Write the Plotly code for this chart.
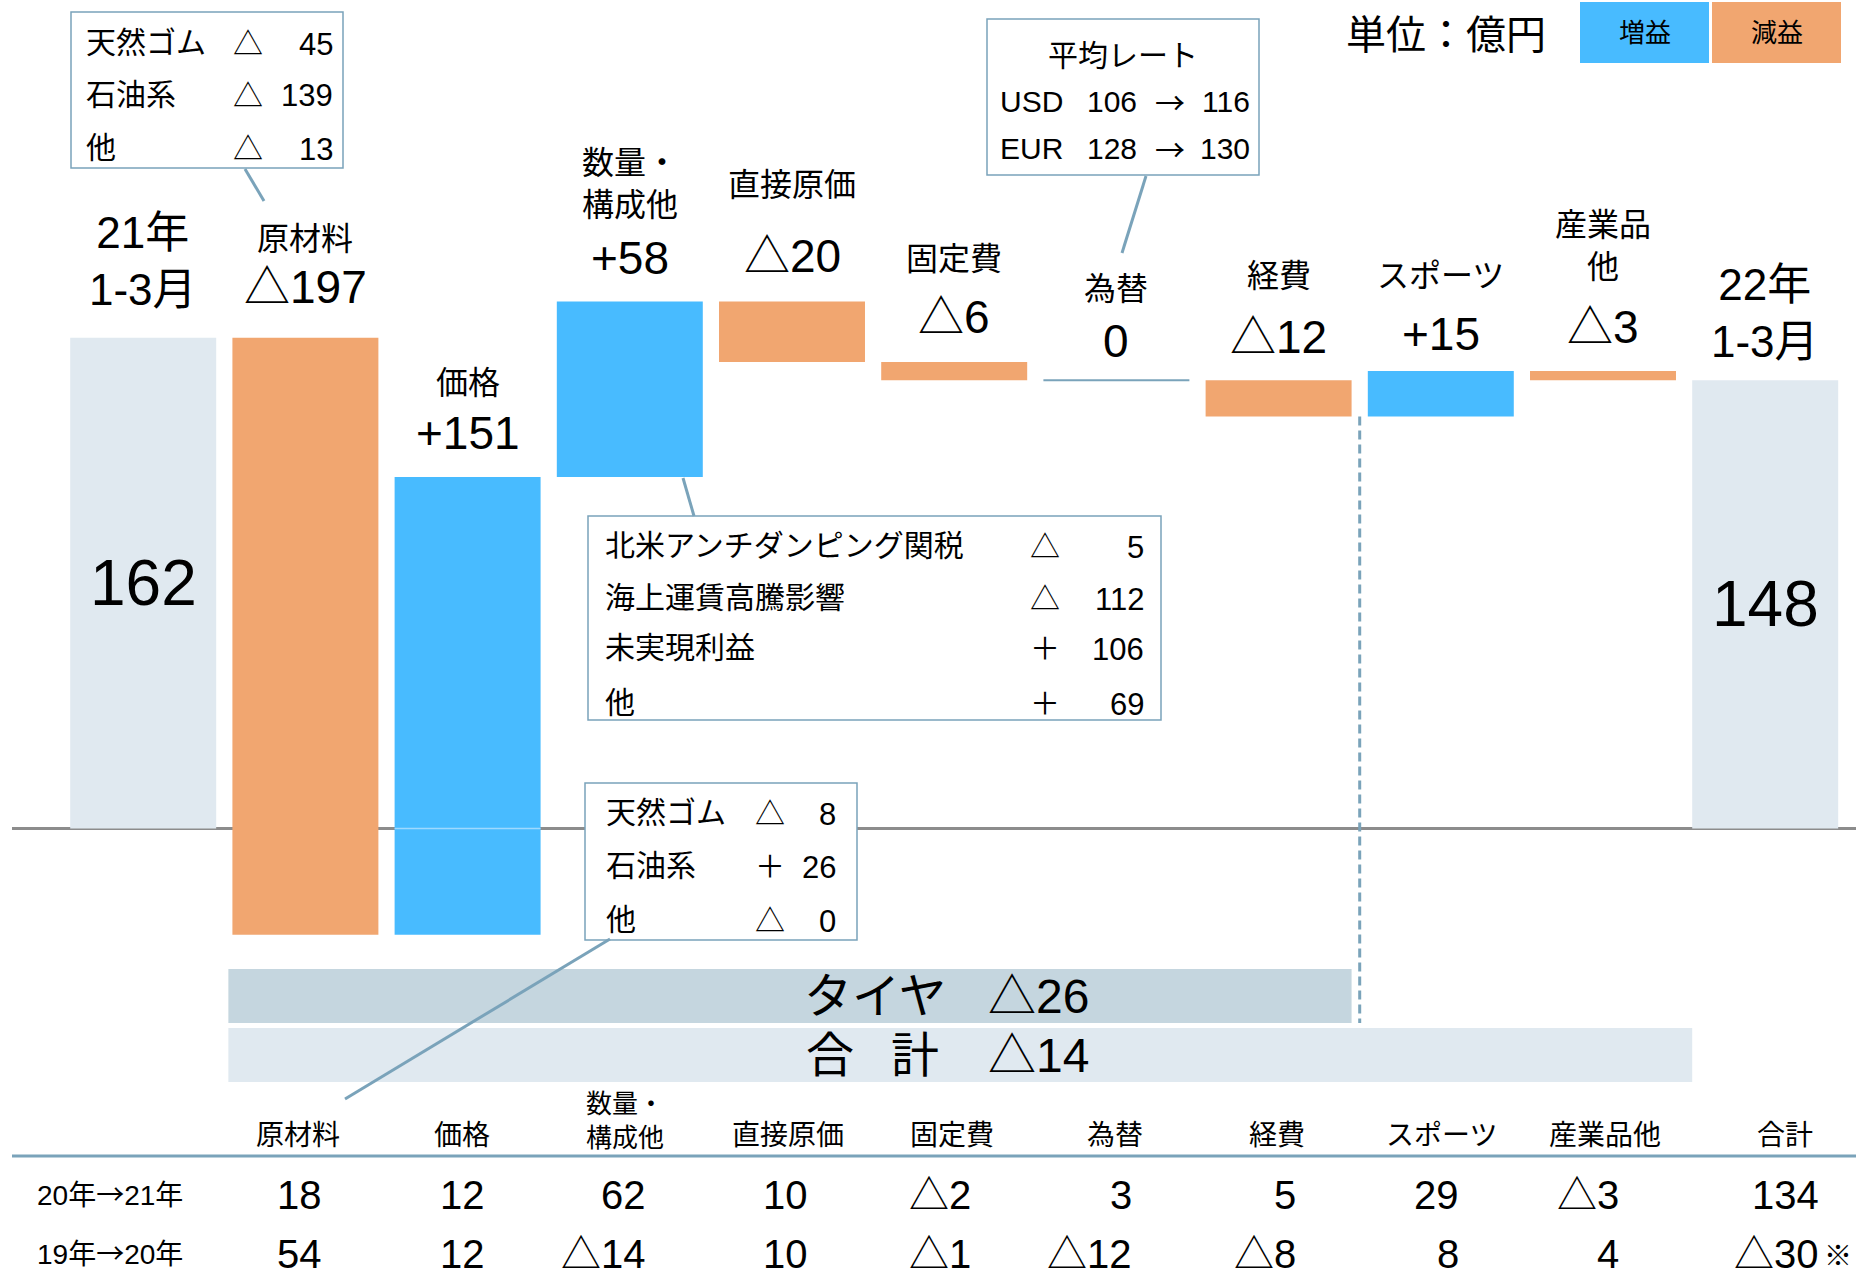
import plotly.graph_objects as go

# ---------------- data ----------------
categories = ["21年1-3月", "原材料", "価格", "数量・構成他", "直接原価", "固定費",
              "為替", "経費", "スポーツ", "産業品他", "22年1-3月"]
label_lines = [["21年", "1-3月"], ["原材料"], ["価格"], ["数量・", "構成他"], ["直接原価"],
               ["固定費"], ["為替"], ["経費"], ["スポーツ"], ["産業品", "他"], ["22年", "1-3月"]]
start_total = 162
end_total = 148
deltas = [-197, 151, 58, -20, -6, 0, -12, 15, -3]

tire_label = "タイヤ"
tire_change = -26
total_label = ["合", "計"]
total_change = -14

raw_items = ["天然ゴム", "石油系", "他"]
raw_values = [-45, -139, -13]

volume_items = ["北米アンチダンピング関税", "海上運賃高騰影響", "未実現利益", "他"]
volume_values = [-5, -112, 106, 69]

price_items = ["天然ゴム", "石油系", "他"]
price_values = [-8, 26, 0]

fx_title = "平均レート"
fx_currencies = ["USD", "EUR"]
fx_prev = [106, 128]
fx_curr = [116, 130]

table_headers = [["原材料"], ["価格"], ["数量・", "構成他"], ["直接原価"], ["固定費"],
                 ["為替"], ["経費"], ["スポーツ"], ["産業品他"], ["合計"]]
table_row_labels = [("20年", "21年"), ("19年", "20年")]
table_rows = [[18, 12, 62, 10, -2, 3, 5, 29, -3, 134],
              [54, 12, -14, 10, -1, -12, -8, 8, 4, -30]]
footnote_mark = "※"

unit_text = "単位：億円"
legend_labels = ["増益", "減益"]

# ---------------- style / layout ----------------
W, H = 1856, 1278
X0_PX, STEP_PX = 143.2, 162.2
Y0_PX, PX_PER_UNIT = 828.6, 3.03
BAR_W = 0.9

BLUE = "#48BBFF"
ORANGE = "#F1A670"
TOTAL_C = "#E0E9F0"
TIRE_C = "#C5D6DF"
STEEL = "#7AA3BA"
ZERO_C = "#8C8C8C"
LAT = "Liberation Sans, Arial, Noto Sans CJK JP, sans-serif"
CJK = "Noto Sans CJK JP, sans-serif"


def px2x(p):
    return (p - X0_PX) / STEP_PX


def px2y(p):
    return (Y0_PX - p) / PX_PER_UNIT


def pxp(p):
    return p / W


def pyp(p):
    return 1 - p / H


def fmt_delta(v):
    return f"+{v}" if v > 0 else (f"△{-v}" if v < 0 else "0")


def fmt_num(v):
    return f"△{-v}" if v < 0 else f"{v}"


def sign(v):
    return "＋" if v > 0 else "△"


levels = [start_total]
for d in deltas:
    levels.append(levels[-1] + d)

fig = go.Figure()
fig.add_trace(go.Bar(x=[0, len(categories) - 1], y=[start_total, end_total],
                     marker=dict(color=TOTAL_C, line=dict(width=0)), width=BAR_W,
                     hoverinfo="skip"))
inc = dict(x=[], y=[], base=[])
dec = dict(x=[], y=[], base=[])
shapes = []
for k, d in enumerate(deltas):
    i = k + 1
    if d > 0:
        inc["x"].append(i); inc["y"].append(d); inc["base"].append(levels[k])
    elif d < 0:
        dec["x"].append(i); dec["y"].append(d); dec["base"].append(levels[k])
    else:
        shapes.append(dict(type="line", xref="x", yref="y", x0=i - BAR_W / 2, x1=i + BAR_W / 2,
                           y0=levels[k], y1=levels[k], line=dict(color=STEEL, width=2)))
    if d > 0 and levels[k] < 0 < levels[k + 1]:
        shapes.append(dict(type="line", xref="x", yref="y", x0=i - BAR_W / 2, x1=i + BAR_W / 2,
                           y0=0, y1=0, line=dict(color="#9ED9FF", width=1.5), layer="above"))
fig.add_trace(go.Bar(x=inc["x"], y=inc["y"], base=inc["base"],
                     marker=dict(color=BLUE, line=dict(width=0)), width=BAR_W, hoverinfo="skip"))
fig.add_trace(go.Bar(x=dec["x"], y=dec["y"], base=dec["base"],
                     marker=dict(color=ORANGE, line=dict(width=0)), width=BAR_W, hoverinfo="skip"))

shapes.append(dict(type="line", xref="paper", yref="y", x0=pxp(12), x1=1, y0=0, y1=0,
                   line=dict(color=ZERO_C, width=3), layer="below"))

annotations = []


def ann(text, x, y, size, font=LAT, xanchor="center", yanchor="middle", xref="paper",
        yref="paper", xshift=0, yshift=0, color="black"):
    annotations.append(dict(text=text, x=x, y=y, xref=xref, yref=yref, xanchor=xanchor,
                            yanchor=yanchor, xshift=xshift, yshift=yshift, showarrow=False,
                            font=dict(family=font, size=size, color=color)))


# labels above bars (multi-line labels use one text block centred between its lines)
name_offsets = [77, 102, 97, 120, 119, 106, 94, 107, 98, 128, 67]
value_offsets = [None, 51, 44, 43, 45, 45, 39, 43, 37, 44, None]
last = len(categories) - 1
for i in range(len(categories)):
    if i == 0:
        top = start_total
    elif i == last:
        top = end_total
    else:
        top = max(levels[i - 1], levels[i])
    big = i in (0, last)
    ann("<br>".join(label_lines[i]), i, top, 44 if big else 32, font=LAT if big else CJK,
        xref="x", yref="y", yshift=name_offsets[i])
    if not big:
        ann(fmt_delta(deltas[i - 1]), i, top, 46, xref="x", yref="y", yshift=value_offsets[i])

ann(str(start_total), 0, start_total / 2, 64, xref="x", yref="y")
ann(str(end_total), last, end_total / 2, 64, xref="x", yref="y")

# bands
tire_y = (969, 1023)
total_y = (1028, 1082)
shapes.append(dict(type="rect", xref="x", yref="paper", x0=1 - BAR_W / 2 - 0.025, x1=7 + BAR_W / 2,
                   y0=pyp(tire_y[1]), y1=pyp(tire_y[0]), fillcolor=TIRE_C, line=dict(width=0)))
shapes.append(dict(type="rect", xref="x", yref="paper", x0=1 - BAR_W / 2 - 0.025, x1=last - BAR_W / 2,
                   y0=pyp(total_y[1]), y1=pyp(total_y[0]), fillcolor=TOTAL_C, line=dict(width=0)))
ann(tire_label, pxp(875), pyp(996), 48)
ann(fmt_num(tire_change), pxp(986), pyp(996), 48, xanchor="left")
ann(total_label[0], pxp(830), pyp(1055), 48)
ann(total_label[1], pxp(915), pyp(1055), 48)
ann(fmt_num(total_change), pxp(986), pyp(1055), 48, xanchor="left")

shapes.append(dict(type="line", xref="x", yref="y", x0=7.5, x1=7.5, y0=levels[7], y1=px2y(tire_y[1]),
                   line=dict(color=STEEL, width=3, dash="9px,5px")))


def box(x0, y0, x1, y1):
    shapes.append(dict(type="rect", xref="paper", yref="paper", x0=pxp(x0), x1=pxp(x1),
                       y0=pyp(y1), y1=pyp(y0), fillcolor="white", line=dict(color=STEEL, width=1.5),
                       layer="above"))


def callout(x0, y0, x1, y1):
    shapes.append(dict(type="line", xref="paper", yref="paper", x0=pxp(x0), x1=pxp(x1),
                       y0=pyp(y0), y1=pyp(y1), line=dict(color=STEEL, width=3), layer="above"))


def detail_box(rect, items, values, rows_y, lab_x, sym_x, num_x, num_dy=4):
    box(*rect)
    for name, v, yy in zip(items, values, rows_y):
        ann(name, pxp(lab_x), pyp(yy), 30, font=CJK, xanchor="left")
        ann(sign(v), pxp(sym_x), pyp(yy + 1), 30, font=CJK)
        ann(str(abs(v)), pxp(num_x), pyp(yy + num_dy), 31, xanchor="right")


detail_box((71, 12, 343, 168), raw_items, raw_values, [40, 92, 145], 84, 248, 335)
callout(245, 169, 264, 201)
detail_box((588, 516, 1161, 720), volume_items, volume_values, [543, 595, 645, 700], 603, 1045, 1146)
callout(683, 478, 694, 516)
detail_box((585, 783, 857, 940), price_items, price_values, [810, 863, 917], 604, 770, 838)
callout(610, 939, 345, 1099)

box(987, 19, 1259, 175)
callout(1146, 176, 1122, 253)
ann(fx_title, pxp(1123), pyp(53), 30, font=CJK)
for cur, a, b, yy in zip(fx_currencies, fx_prev, fx_curr, [101, 148]):
    ann(cur, pxp(998), pyp(yy), 30, xanchor="left")
    ann(str(a), pxp(1112), pyp(yy), 30)
    ann("→", pxp(1170), pyp(yy), 30, font=CJK)
    ann(str(b), pxp(1252), pyp(yy), 30, xanchor="right")

ann(unit_text, pxp(1446), pyp(32), 40, font=CJK)
for lab, col, (x0, x1) in zip(legend_labels, [BLUE, ORANGE], [(1580, 1709), (1712, 1841)]):
    shapes.append(dict(type="rect", xref="paper", yref="paper", x0=pxp(x0), x1=pxp(x1),
                       y0=pyp(63), y1=pyp(2), fillcolor=col, line=dict(width=0)))
    ann(lab, pxp((x0 + x1) / 2), pyp(30), 26, font=CJK)

# table
header_shift = [-7, -6, -5, -4, -2, -1, -2, 1, 2, 20]
value_shift = [19, 19, 18, 18, 19, 18, 19, 20, 18, 56]
for c, (hdr, hs) in enumerate(zip(table_headers, header_shift)):
    if len(hdr) == 1:
        ann(hdr[0], c + 1, pyp(1133), 28, font=CJK, xref="x", xshift=hs)
    else:
        ann("<br>".join(hdr), c + 1, pyp(1118), 26, font=CJK, xref="x", xshift=hs)
shapes.append(dict(type="line", xref="paper", yref="paper", x0=pxp(12), x1=1, y0=pyp(1156),
                   y1=pyp(1156), line=dict(color=STEEL, width=3)))
ARROW = "<span style='font-family:Noto Sans CJK JP'>→</span>"
for (a, b), row, yy in zip(table_row_labels, table_rows, [1193, 1252]):
    ann(a + ARROW + b, pxp(110), pyp(yy), 28)
    for c, (v, vs) in enumerate(zip(row, value_shift)):
        ann(fmt_num(v), c + 1, pyp(yy + 2), 40, xref="x", xanchor="right", xshift=vs)
ann(footnote_mark, len(table_headers), pyp(1254), 28, font=CJK, xref="x", xanchor="left",
    xshift=value_shift[-1] + 1)

fig.update_layout(
    width=W, height=H, autosize=False,
    margin=dict(l=0, r=0, t=0, b=0, pad=0),
    paper_bgcolor="white", plot_bgcolor="white",
    barmode="overlay", showlegend=False,
    xaxis=dict(range=[px2x(0), px2x(W)], visible=False, fixedrange=True),
    yaxis=dict(range=[px2y(H), px2y(0)], visible=False, fixedrange=True),
    shapes=shapes, annotations=annotations,
)

fig.write_html("out.html", config={"displayModeBar": False},
               post_script="document.body.style.margin='0';document.body.style.overflow='hidden';")
